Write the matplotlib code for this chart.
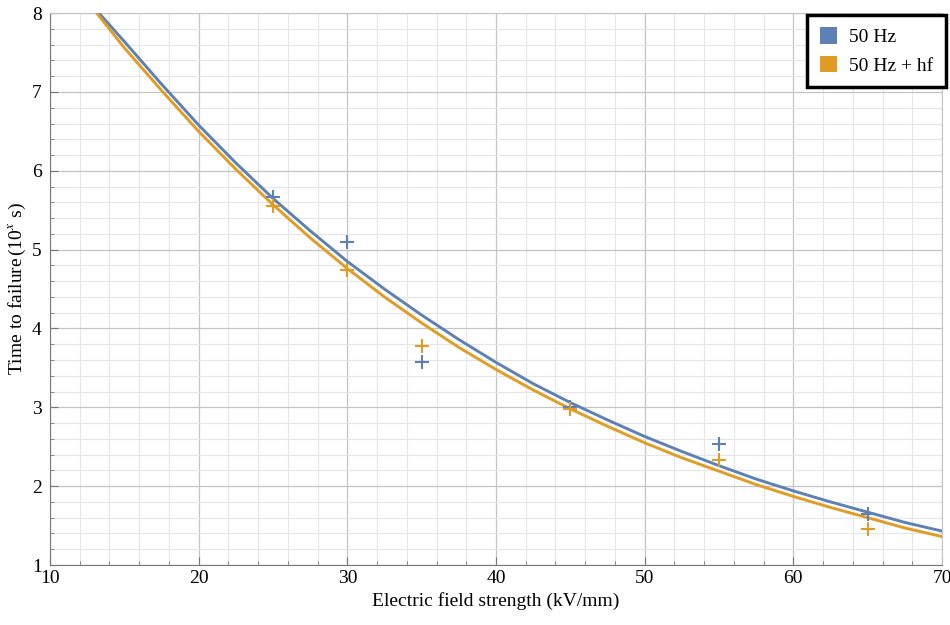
import matplotlib
matplotlib.use("Agg")
import matplotlib.pyplot as plt
from matplotlib.patches import Patch
from matplotlib.ticker import MultipleLocator

# measured breakdown points
field_pts = [25, 30, 35, 45, 55, 65]
t_50hz = [5.67, 5.10, 3.57, 3.00, 2.53, 1.65]
t_50hz_hf = [5.55, 4.74, 3.78, 2.98, 2.33, 1.46]

# fitted curves
fit_x = [15, 17.5, 20, 22.5, 25, 27.5, 30, 32.5, 35, 37.5, 40, 42.5,
         45, 47.5, 50, 52.5, 55, 57.5, 60, 62.5, 65, 67.5, 70]
fit_y_50hz = [7.64, 7.10, 6.58, 6.10, 5.65, 5.24, 4.85, 4.50, 4.17, 3.86,
              3.57, 3.30, 3.06, 2.84, 2.63, 2.44, 2.26, 2.09, 1.94, 1.80,
              1.67, 1.54, 1.43]
fit_y_hf = [7.56, 7.02, 6.50, 6.02, 5.57, 5.15, 4.76, 4.40, 4.07, 3.76,
            3.48, 3.22, 2.98, 2.76, 2.55, 2.36, 2.19, 2.02, 1.87, 1.73,
            1.60, 1.47, 1.36]
# where each curve leaves the top of the plot (y = 8)
start_x_50hz, start_x_hf = 13.3, 13.15

series_names = ["50 Hz", "50 Hz + hf"]
BLUE = "#5E81B5"
ORANGE = "#E19C24"

plt.rcParams["font.family"] = ["Liberation Serif", "DejaVu Serif"]
plt.rcParams["mathtext.fontset"] = "stix"

fig = plt.figure(figsize=(9.5, 6.25), dpi=100)
ax = fig.add_axes([0.0526, 0.096, 0.939, 0.883])

ax.plot([start_x_50hz] + fit_x, [8.0] + fit_y_50hz, color=BLUE, lw=2.1,
        zorder=3, solid_joinstyle="round")
ax.plot([start_x_hf] + fit_x, [8.0] + fit_y_hf, color=ORANGE, lw=2.1,
        zorder=3, solid_joinstyle="round")
ax.plot(field_pts, t_50hz, "+", color=BLUE, ms=10, mew=1.5, zorder=4)
ax.plot(field_pts, t_50hz_hf, "+", color=ORANGE, ms=10, mew=1.5, zorder=4)

ax.set_xlim(10, 70)
ax.set_ylim(1, 8)
ax.xaxis.set_major_locator(MultipleLocator(10))
ax.xaxis.set_minor_locator(MultipleLocator(2))
ax.yaxis.set_major_locator(MultipleLocator(1))
ax.yaxis.set_minor_locator(MultipleLocator(0.2))
ax.grid(which="major", color="#c4c4c4", lw=0.9)
ax.grid(which="minor", color="#e6e6e6", lw=0.8)
ax.set_axisbelow(True)

ax.tick_params(which="both", direction="in", top=False, right=False,
               color="#777777", labelsize=14)
ax.tick_params(which="major", length=6)
ax.tick_params(which="minor", length=3)
ax.tick_params(axis="y", pad=6)
for s in ["left", "bottom"]:
    ax.spines[s].set_color("#777777")
for s in ["top", "right"]:
    ax.spines[s].set_color("#c4c4c4")

ax.set_xlabel("Electric field strength (kV/mm)", fontsize=14, labelpad=4)
ax.set_ylabel(r"Time to failure$\,$(10$^{x}$ s)", fontsize=14, labelpad=3)

handles = [Patch(facecolor=BLUE), Patch(facecolor=ORANGE)]
leg = ax.legend(handles, series_names, loc="upper right", fontsize=14,
                fancybox=False, framealpha=1, handlelength=0.9,
                handleheight=0.9, handletextpad=0.6, borderpad=0.65,
                labelspacing=0.5, borderaxespad=0,
                bbox_to_anchor=(1.004, 0.997))
leg.get_frame().set_edgecolor("black")
leg.get_frame().set_linewidth(2.5)

fig.savefig("out.png", dpi=100)
